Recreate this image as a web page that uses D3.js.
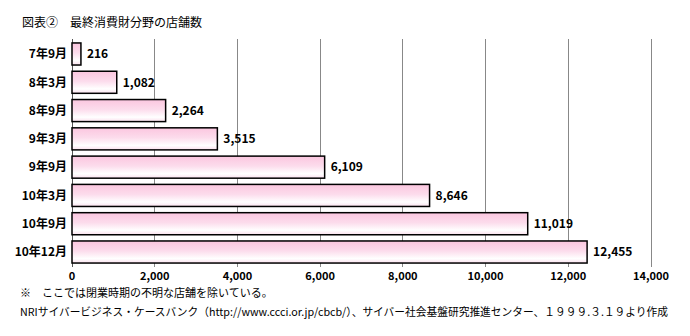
<!DOCTYPE html>
<html>
<head>
<meta charset="utf-8">
<script src="https://cdn.jsdelivr.net/npm/d3@7"></script>
<style>
  html, body { margin: 0; padding: 0; background: #fff; }
  svg { display: block; }
  text { font-family: "Noto Sans CJK JP", "Noto Sans", sans-serif; fill: #000; }
</style>
</head>
<body>
<svg id="chart" width="690" height="336"></svg>
<script>
// 最終消費財分野の店舗数（時期別）
const periods = ["7年9月", "8年3月", "8年9月", "9年3月", "9年9月", "10年3月", "10年9月", "10年12月"];
const storeCounts = [216, 1082, 2264, 3515, 6109, 8646, 11019, 12455];
const xTicks = [0, 2000, 4000, 6000, 8000, 10000, 12000, 14000];

const titleText = "図表②　最終消費財分野の店舗数";
const noteText = "※　ここでは閉業時期の不明な店舗を除いている。";
const sourceText = "NRIサイバービジネス・ケースバンク（http://www.ccci.or.jp/cbcb/）、サイバー社会基盤研究推進センター、１９９９.３.１９より作成";

const svg = d3.select("#chart");
const plot = { left: 72, right: 651, top: 39, bottom: 267 };

const x = d3.scaleLinear().domain([0, 14000]).range([plot.left, plot.right]);
const y = d3.scaleBand().domain(periods).range([plot.top, plot.bottom]).paddingInner(0.22).paddingOuter(0.14);

// bar fill: pink on top fading to white, slight pink at the bottom edge
const defs = svg.append("defs");
const grad = defs.append("linearGradient").attr("id", "barFill")
  .attr("x1", 0).attr("y1", 0).attr("x2", 0).attr("y2", 1);
grad.append("stop").attr("offset", "0%").attr("stop-color", "#fbc6df");
grad.append("stop").attr("offset", "45%").attr("stop-color", "#fcdcec");
grad.append("stop").attr("offset", "80%").attr("stop-color", "#ffffff");
grad.append("stop").attr("offset", "100%").attr("stop-color", "#fbe0ee");

// title
svg.append("text").attr("x", 22).attr("y", 27)
  .attr("font-size", 12).text(titleText);

// vertical grid lines
svg.append("g").selectAll("line").data(xTicks).join("line")
  .attr("x1", d => x(d)).attr("x2", d => x(d))
  .attr("y1", plot.top).attr("y2", plot.bottom)
  .attr("stroke", d => d === 0 ? "#555" : "#888").attr("stroke-width", 1)
  .attr("shape-rendering", "crispEdges");

// x axis tick labels
svg.append("g").selectAll("text").data(xTicks).join("text")
  .attr("x", d => x(d)).attr("y", 280)
  .attr("text-anchor", "middle").attr("font-size", 11).attr("font-weight", "bold")
  .text(d => d3.format(",")(d));

// bars
svg.append("g").selectAll("rect").data(storeCounts).join("rect")
  .attr("x", x(0))
  .attr("y", (d, i) => y(periods[i]))
  .attr("width", d => x(d) - x(0))
  .attr("height", y.bandwidth())
  .attr("fill", "url(#barFill)")
  .attr("stroke", "#000").attr("stroke-width", 1.5);

// value labels
svg.append("g").selectAll("text").data(storeCounts).join("text")
  .attr("x", d => x(d) + 6)
  .attr("y", (d, i) => y(periods[i]) + y.bandwidth() / 2)
  .attr("dy", "0.36em")
  .attr("font-size", 12).attr("font-weight", "bold")
  .text(d => d3.format(",")(d));

// category labels
svg.append("g").selectAll("text").data(periods).join("text")
  .attr("x", 67)
  .attr("y", d => y(d) + y.bandwidth() / 2)
  .attr("dy", "0.36em")
  .attr("text-anchor", "end")
  .attr("font-size", 12).attr("font-weight", "bold")
  .text(d => d);

// notes
svg.append("text").attr("x", 20).attr("y", 297)
  .attr("font-size", 11).text(noteText);
svg.append("text").attr("x", 20).attr("y", 316)
  .attr("font-size", 11)
  .attr("textLength", 648).attr("lengthAdjust", "spacingAndGlyphs")
  .text(sourceText);
</script>
</body>
</html>
